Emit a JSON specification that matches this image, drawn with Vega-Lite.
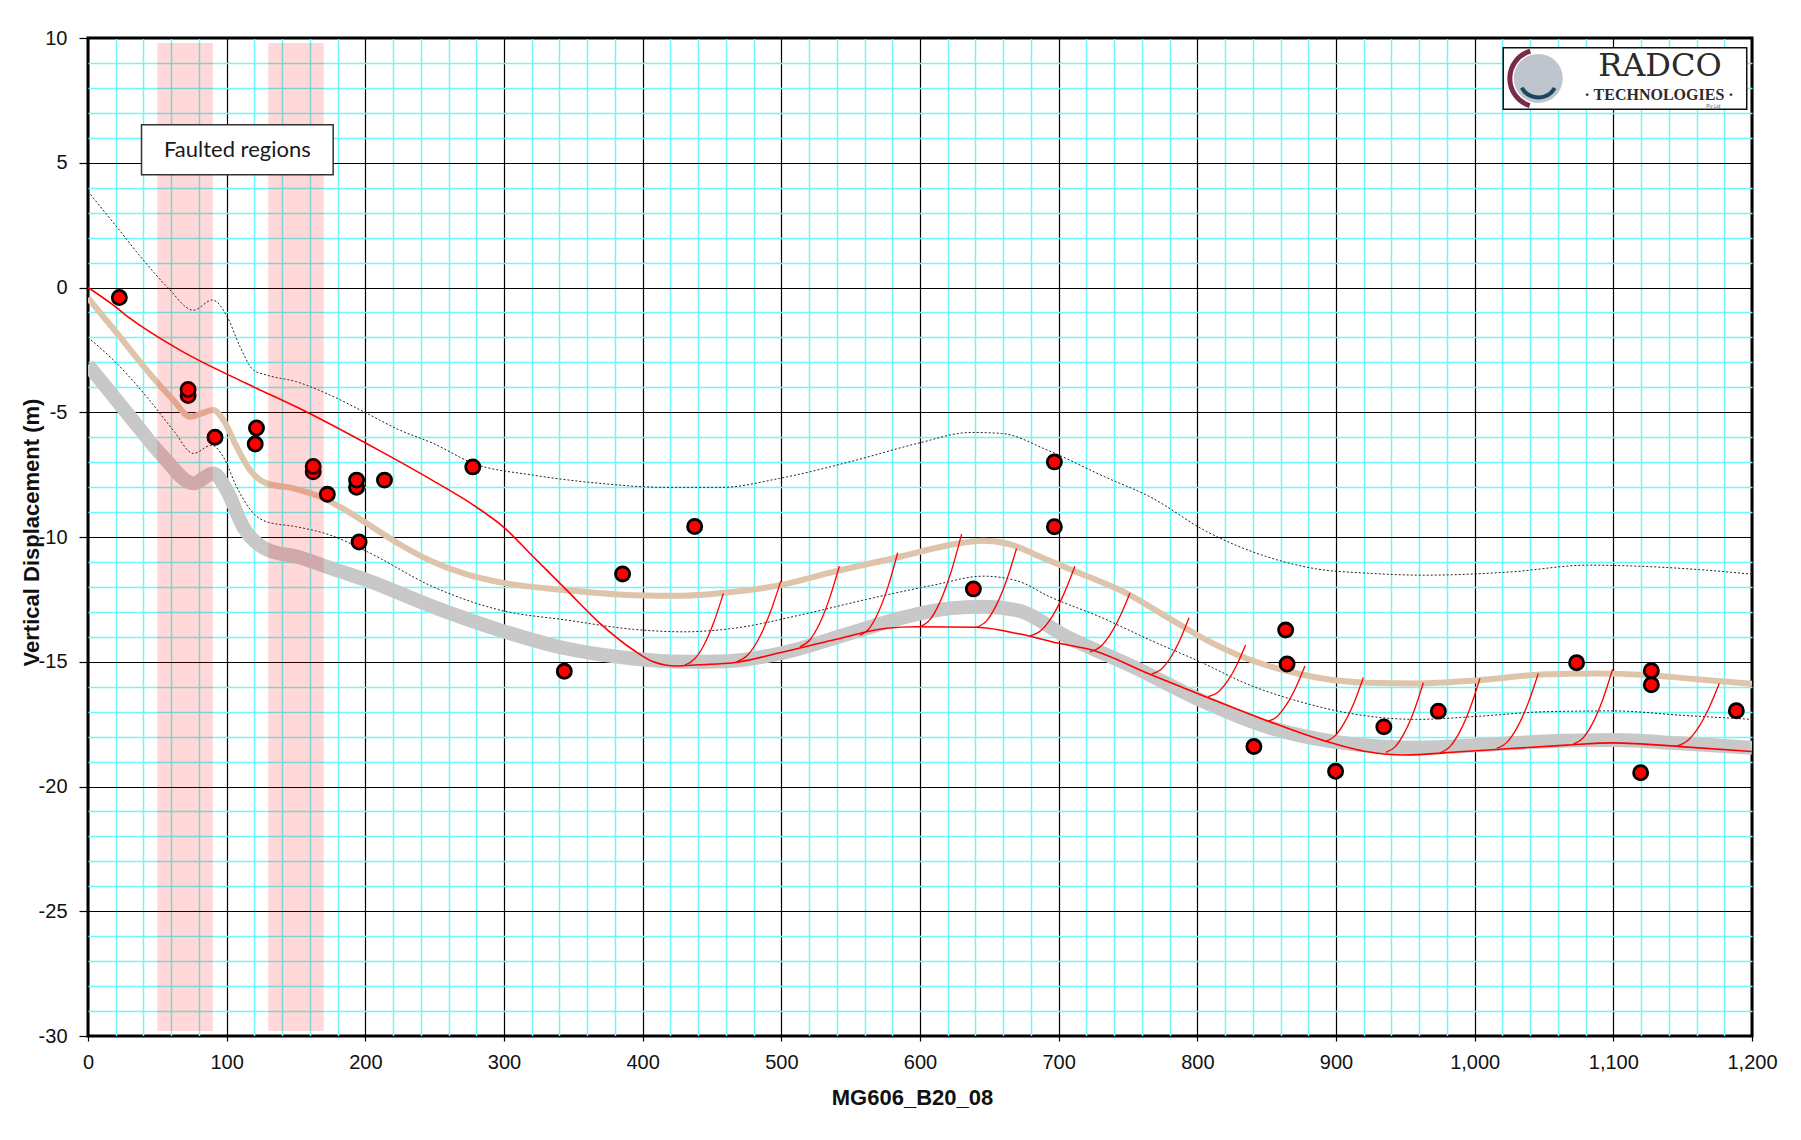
{
  "$schema": "https://vega.github.io/schema/vega-lite/v6.json",
  "width": 1664,
  "height": 998,
  "autosize": {"type": "none"},
  "padding": {"left": 88, "top": 38, "right": 49, "bottom": 104},
  "background": "#ffffff",
  "config": {"view": {"stroke": "#000000", "strokeWidth": 3}},
  "datasets": {
    "pts": [
      {"x":22.6,"y":-0.4},{"x":72.2,"y":-4.33},{"x":72.2,"y":-4.09},{"x":91.6,"y":-6.0},{"x":120.6,"y":-6.27},{"x":121.5,"y":-5.63},
      {"x":162.4,"y":-7.39},{"x":162.4,"y":-7.17},{"x":172.6,"y":-8.29},{"x":193.7,"y":-8.01},{"x":193.7,"y":-7.72},{"x":195.5,"y":-10.2},
      {"x":213.8,"y":-7.72},{"x":277.5,"y":-7.19},{"x":343.5,"y":-15.38},{"x":385.5,"y":-11.48},{"x":437.5,"y":-9.58},{"x":638.5,"y":-12.08},
      {"x":696.9,"y":-6.99},{"x":696.9,"y":-9.59},{"x":840.8,"y":-18.4},{"x":863.7,"y":-13.73},{"x":864.7,"y":-15.09},{"x":899.7,"y":-19.39},
      {"x":934.5,"y":-17.61},{"x":973.8,"y":-16.98},{"x":1073.5,"y":-15.04},{"x":1119.7,"y":-19.45},{"x":1127.4,"y":-15.92},{"x":1127.4,"y":-15.36},
      {"x":1188.7,"y":-16.96}
    ],
    "red": [
      {"x":0,"y":0},{"x":18.3,"y":-0.71},{"x":30.4,"y":-1.24},{"x":66.3,"y":-2.51},{"x":114.4,"y":-3.85},{"x":157.3,"y":-4.98},
      {"x":210.6,"y":-6.55},{"x":249,"y":-7.75},{"x":277.9,"y":-8.72},{"x":299.5,"y":-9.59},{"x":321.1,"y":-10.79},{"x":345.2,"y":-12.13},
      {"x":369.2,"y":-13.46},{"x":393.3,"y":-14.53},{"x":407.7,"y":-15.0},{"x":424.5,"y":-15.17},{"x":440,"y":-15.12},{"x":465.4,"y":-15.04},
      {"x":499,"y":-14.64},{"x":537.5,"y":-14.13},{"x":575.9,"y":-13.66},{"x":597.6,"y":-13.6},{"x":640.8,"y":-13.62},{"x":672.1,"y":-13.89},
      {"x":700.2,"y":-14.26},{"x":724,"y":-14.53},{"x":764.5,"y":-15.47},{"x":805,"y":-16.38},{"x":849.2,"y":-17.34},{"x":893.4,"y":-18.2},
      {"x":922.9,"y":-18.61},{"x":948.7,"y":-18.74},{"x":989.2,"y":-18.61},{"x":1026,"y":-18.48},{"x":1066.5,"y":-18.34},{"x":1099.7,"y":-18.25},
      {"x":1151.3,"y":-18.41},{"x":1200,"y":-18.6}
    ],
    "tan": [
      {"x":0,"y":-0.42},{"x":23.1,"y":-1.98},{"x":42.3,"y":-3.31},{"x":61.5,"y":-4.51},{"x":73.6,"y":-5.18},{"x":83.2,"y":-5.02},
      {"x":90.4,"y":-4.91},{"x":97.6,"y":-5.31},{"x":107.2,"y":-6.38},{"x":116.9,"y":-7.32},{"x":128.9,"y":-7.85},{"x":148.1,"y":-8.05},
      {"x":167.4,"y":-8.39},{"x":186.6,"y":-8.95},{"x":210.6,"y":-9.8},{"x":225,"y":-10.3},{"x":249,"y":-11.0},{"x":273.1,"y":-11.5},
      {"x":299.5,"y":-11.84},{"x":345.2,"y":-12.13},{"x":393.3,"y":-12.33},{"x":429.3,"y":-12.35},{"x":465.4,"y":-12.2},{"x":499.1,"y":-11.93},
      {"x":537.5,"y":-11.4},{"x":585.6,"y":-10.79},{"x":621.6,"y":-10.32},{"x":645.7,"y":-10.15},{"x":664,"y":-10.28},{"x":689,"y":-10.85},
      {"x":713,"y":-11.4},{"x":749,"y":-12.26},{"x":777.9,"y":-13.2},{"x":806.7,"y":-14.13},{"x":835.6,"y":-14.87},{"x":862,"y":-15.33},
      {"x":886,"y":-15.63},{"x":922.2,"y":-15.84},{"x":960,"y":-15.87},{"x":1000,"y":-15.75},{"x":1052,"y":-15.5},{"x":1088,"y":-15.47},
      {"x":1124,"y":-15.53},{"x":1160,"y":-15.7},{"x":1200,"y":-15.88}
    ],
    "grey": [
      {"x":0,"y":-3.1},{"x":30.3,"y":-5.18},{"x":54.3,"y":-6.79},{"x":75.9,"y":-7.85},{"x":90.4,"y":-7.45},{"x":100,"y":-8.12},
      {"x":112,"y":-9.6},{"x":129,"y":-10.5},{"x":152.9,"y":-10.82},{"x":175,"y":-11.25},{"x":201,"y":-11.73},{"x":249,"y":-12.8},
      {"x":297,"y":-13.73},{"x":345,"y":-14.47},{"x":393,"y":-14.87},{"x":429,"y":-15.0},{"x":460,"y":-14.98},{"x":499,"y":-14.67},
      {"x":549.5,"y":-13.86},{"x":585.6,"y":-13.26},{"x":621.6,"y":-12.86},{"x":645.7,"y":-12.8},{"x":669.7,"y":-12.93},{"x":705.8,"y":-14.0},
      {"x":753.8,"y":-15.2},{"x":801.9,"y":-16.53},{"x":850,"y":-17.6},{"x":898,"y":-18.2},{"x":931.7,"y":-18.4},{"x":960,"y":-18.45},
      {"x":1003.8,"y":-18.34},{"x":1050,"y":-18.2},{"x":1100,"y":-18.14},{"x":1148,"y":-18.27},{"x":1200,"y":-18.45}
    ],
    "upper": [
      {"x":0,"y":3.85},{"x":20.7,"y":2.43},{"x":39.9,"y":1.1},{"x":57.5,"y":0.0},{"x":76,"y":-0.91},{"x":89.8,"y":-0.5},
      {"x":100,"y":-1.13},{"x":109.7,"y":-2.38},{"x":119.3,"y":-3.31},{"x":128.9,"y":-3.51},{"x":150.5,"y":-3.78},{"x":174.5,"y":-4.31},
      {"x":199.5,"y":-5.0},{"x":225,"y":-5.72},{"x":249,"y":-6.25},{"x":277.9,"y":-7.05},{"x":321.1,"y":-7.52},{"x":369.2,"y":-7.85},
      {"x":416,"y":-8.01},{"x":457.3,"y":-8.01},{"x":498.7,"y":-7.65},{"x":553.9,"y":-6.92},{"x":598.1,"y":-6.25},{"x":636.7,"y":-5.81},
      {"x":658.8,"y":-5.85},{"x":692,"y":-6.52},{"x":733.3,"y":-7.59},{"x":765.9,"y":-8.39},{"x":806.7,"y":-9.78},{"x":849,"y":-10.77},
      {"x":886,"y":-11.28},{"x":922.9,"y":-11.45},{"x":963.4,"y":-11.53},{"x":1026,"y":-11.4},{"x":1081.3,"y":-11.13},{"x":1118.1,"y":-11.17},
      {"x":1160,"y":-11.3},{"x":1200,"y":-11.49}
    ],
    "lower": [
      {"x":0,"y":-2.0},{"x":18.3,"y":-2.91},{"x":42.3,"y":-4.38},{"x":61.5,"y":-5.72},{"x":76,"y":-6.65},{"x":89.2,"y":-6.32},
      {"x":97.6,"y":-6.79},{"x":107.2,"y":-7.99},{"x":119.3,"y":-9.05},{"x":128.9,"y":-9.39},{"x":150.5,"y":-9.59},{"x":174.5,"y":-9.92},
      {"x":200,"y":-10.55},{"x":249,"y":-12.0},{"x":297.1,"y":-12.93},{"x":345.2,"y":-13.33},{"x":393.3,"y":-13.7},{"x":429.3,"y":-13.8},
      {"x":465.4,"y":-13.66},{"x":513.4,"y":-13.13},{"x":561.5,"y":-12.5},{"x":609.6,"y":-11.93},{"x":645.7,"y":-11.57},{"x":669.7,"y":-11.75},
      {"x":693.7,"y":-12.4},{"x":729.8,"y":-13.2},{"x":765.9,"y":-14.13},{"x":801.9,"y":-15.0},{"x":838,"y":-15.94},{"x":874,"y":-16.6},
      {"x":910.1,"y":-17.07},{"x":958.2,"y":-17.31},{"x":1003.8,"y":-17.18},{"x":1052,"y":-17.0},{"x":1100,"y":-16.97},{"x":1148,"y":-17.14},
      {"x":1200,"y":-17.31}
    ],
    "fans": [
      {"f":1,"x":430.5,"y":-15.13},{"f":1,"x":437.4,"y":-14.89},{"f":1,"x":444.4,"y":-14.31},{"f":1,"x":451.3,"y":-13.42},{"f":1,"x":458.2,"y":-12.26},
      {"f":2,"x":467.8,"y":-15.0},{"f":2,"x":475.8,"y":-14.73},{"f":2,"x":483.8,"y":-14.07},{"f":2,"x":491.7,"y":-13.07},{"f":2,"x":499.7,"y":-11.76},
      {"f":3,"x":513.4,"y":-14.4},{"f":3,"x":520.5,"y":-14.13},{"f":3,"x":527.6,"y":-13.47},{"f":3,"x":534.7,"y":-12.47},{"f":3,"x":541.8,"y":-11.17},
      {"f":4,"x":556.7,"y":-13.93},{"f":4,"x":563.5,"y":-13.66},{"f":4,"x":570.3,"y":-12.98},{"f":4,"x":577.1,"y":-11.96},{"f":4,"x":583.9,"y":-10.63},
      {"f":5,"x":600,"y":-13.6},{"f":5,"x":607.5,"y":-13.29},{"f":5,"x":615,"y":-12.53},{"f":5,"x":622.5,"y":-11.38},{"f":5,"x":630,"y":-9.88},
      {"f":6,"x":640.8,"y":-13.62},{"f":6,"x":648,"y":-13.36},{"f":6,"x":655.2,"y":-12.71},{"f":6,"x":662.4,"y":-11.74},{"f":6,"x":669.6,"y":-10.46},
      {"f":7,"x":679.3,"y":-13.97},{"f":7,"x":687.4,"y":-13.74},{"f":7,"x":695.5,"y":-13.17},{"f":7,"x":703.6,"y":-12.3},{"f":7,"x":711.7,"y":-11.17},
      {"f":8,"x":722.6,"y":-14.6},{"f":8,"x":729.8,"y":-14.41},{"f":8,"x":737,"y":-13.92},{"f":8,"x":744.2,"y":-13.19},{"f":8,"x":751.4,"y":-12.24},
      {"f":9,"x":767,"y":-15.5},{"f":9,"x":773.75,"y":-15.31},{"f":9,"x":780.5,"y":-14.85},{"f":9,"x":787.25,"y":-14.15},{"f":9,"x":794,"y":-13.24},
      {"f":10,"x":807.9,"y":-16.4},{"f":10,"x":814.6,"y":-16.23},{"f":10,"x":821.35,"y":-15.81},{"f":10,"x":828.1,"y":-15.17},{"f":10,"x":834.8,"y":-14.33},
      {"f":11,"x":850,"y":-17.4},{"f":11,"x":856.9,"y":-17.22},{"f":11,"x":863.8,"y":-16.76},{"f":11,"x":870.7,"y":-16.07},{"f":11,"x":877.6,"y":-15.17},
      {"f":12,"x":892,"y":-18.2},{"f":12,"x":898.9,"y":-17.99},{"f":12,"x":905.85,"y":-17.46},{"f":12,"x":912.8,"y":-16.67},{"f":12,"x":919.7,"y":-15.63},
      {"f":13,"x":936,"y":-18.63},{"f":13,"x":942.75,"y":-18.4},{"f":13,"x":949.5,"y":-17.83},{"f":13,"x":956.25,"y":-16.97},{"f":13,"x":963,"y":-15.84},
      {"f":14,"x":975,"y":-18.65},{"f":14,"x":982.2,"y":-18.4},{"f":14,"x":989.4,"y":-17.79},{"f":14,"x":996.6,"y":-16.87},{"f":14,"x":1003.8,"y":-15.67},
      {"f":15,"x":1015.9,"y":-18.47},{"f":15,"x":1023.4,"y":-18.22},{"f":15,"x":1030.9,"y":-17.61},{"f":15,"x":1038.4,"y":-16.68},{"f":15,"x":1045.9,"y":-15.47},
      {"f":16,"x":1071.1,"y":-18.3},{"f":16,"x":1078.2,"y":-18.05},{"f":16,"x":1085.3,"y":-17.44},{"f":16,"x":1092.4,"y":-16.51},{"f":16,"x":1099.5,"y":-15.3},
      {"f":17,"x":1145.7,"y":-18.38},{"f":17,"x":1153.4,"y":-18.17},{"f":17,"x":1161.05,"y":-17.66},{"f":17,"x":1168.7,"y":-16.88},{"f":17,"x":1176.4,"y":-15.87}
    ],
    "bands": [
      {"x":50,"x2":90,"y":-29.8,"y2":9.8},
      {"x":130,"x2":170,"y":-29.8,"y2":9.8}
    ],
    "labelbox": [{"x":38.6,"x2":176.8,"y":6.52,"y2":4.52,"cx":107.7,"cy":5.52,"t":"Faulted regions"}],
    "logobox": [{"x":1020.6,"x2":1196.2,"y":9.61,"y2":7.14}],
    "logocircle": [{"x":1045.9,"y":8.38}],
    "logotext": [
      {"x":1133.6,"y":8.46,"t":"RADCO","k":"a"},
      {"x":1133,"y":7.5,"t":"· TECHNOLOGIES ·","k":"b"},
      {"x":1172,"y":7.19,"t":"Pty Ltd","k":"c"}
    ]
  },
  "resolve": {"axis": {"x": "independent", "y": "independent"}},
  "layer": [
    {
      "data": {"name": "grey"},
      "mark": {"type": "line", "color": "#c8c8c8", "strokeWidth": 14, "interpolate": "monotone", "clip": true, "strokeCap": "butt"},
      "encoding": {
        "x": {"field": "x", "type": "quantitative", "scale": {"domain": [0, 1200], "nice": false, "zero": false},
          "axis": {"orient": "top", "values": [20,40,60,80,120,140,160,180,220,240,260,280,320,340,360,380,420,440,460,480,520,540,560,580,620,640,660,680,720,740,760,780,820,840,860,880,920,940,960,980,1020,1040,1060,1080,1120,1140,1160,1180],
            "grid": true, "gridColor": "#6ff6f6", "gridWidth": 1.5, "gridOpacity": 1, "labels": false, "ticks": false, "domain": false, "title": null}},
        "y": {"field": "y", "type": "quantitative", "scale": {"domain": [-30, 10], "nice": false, "zero": false},
          "axis": {"orient": "right", "values": [-29,-28,-27,-26,-24,-23,-22,-21,-19,-18,-17,-16,-14,-13,-12,-11,-9,-8,-7,-6,-4,-3,-2,-1,1,2,3,4,6,7,8,9],
            "grid": true, "gridColor": "#6ff6f6", "gridWidth": 1.5, "gridOpacity": 1, "labels": false, "ticks": false, "domain": false, "title": null}}
      }
    },
    {
      "data": {"name": "tan"},
      "mark": {"type": "line", "color": "#dec4ab", "strokeWidth": 6, "interpolate": "monotone", "clip": true},
      "encoding": {
        "x": {"field": "x", "type": "quantitative", "scale": {"domain": [0, 1200], "nice": false, "zero": false},
          "axis": {"orient": "bottom", "values": [0,100,200,300,400,500,600,700,800,900,1000,1100,1200], "format": ",d",
            "grid": true, "gridColor": "#000000", "gridWidth": 1.2, "gridOpacity": 1, "domain": false,
            "ticks": true, "tickSize": 5, "tickColor": "#000000", "tickWidth": 1.2,
            "labelFont": "Liberation Sans", "labelFontSize": 20, "labelColor": "#111111", "labelPadding": 11, "labelFlush": false, "labelOverlap": false,
            "title": "MG606_B20_08", "titleFont": "Liberation Sans", "titleFontSize": 22, "titleFontWeight": "bold", "titleColor": "#111111",
            "titleX": 824, "titleY": 68, "titleAlign": "center", "titleBaseline": "alphabetic"}},
        "y": {"field": "y", "type": "quantitative", "scale": {"domain": [-30, 10], "nice": false, "zero": false},
          "axis": {"orient": "left", "values": [-30,-25,-20,-15,-10,-5,0,5,10], "labelExpr": "'' + datum.value",
            "grid": true, "gridColor": "#000000", "gridWidth": 1.2, "gridOpacity": 1, "domain": false,
            "ticks": true, "tickSize": 9, "tickColor": "#000000", "tickWidth": 1.2,
            "labelFont": "Liberation Sans", "labelFontSize": 20, "labelColor": "#111111", "labelPadding": 12, "labelFlush": false, "labelOverlap": false,
            "title": "Vertical Displacement (m)", "titleFont": "Liberation Sans", "titleFontSize": 22, "titleFontWeight": "bold", "titleColor": "#111111",
            "titleX": -57, "titleY": 494, "titleAngle": 270, "titleAlign": "center", "titleBaseline": "middle"}}
      }
    },
    {
      "data": {"name": "upper"},
      "mark": {"type": "line", "color": "#222222", "strokeWidth": 1, "strokeDash": [2, 2], "interpolate": "monotone", "clip": true},
      "encoding": {
        "x": {"field": "x", "type": "quantitative", "axis": null},
        "y": {"field": "y", "type": "quantitative", "axis": null}
      }
    },
    {
      "data": {"name": "lower"},
      "mark": {"type": "line", "color": "#222222", "strokeWidth": 1, "strokeDash": [2, 2], "interpolate": "monotone", "clip": true},
      "encoding": {
        "x": {"field": "x", "type": "quantitative", "axis": null},
        "y": {"field": "y", "type": "quantitative", "axis": null}
      }
    },
    {
      "data": {"name": "red"},
      "mark": {"type": "line", "color": "#ff0000", "strokeWidth": 1.6, "interpolate": "monotone", "clip": true},
      "encoding": {
        "x": {"field": "x", "type": "quantitative", "axis": null},
        "y": {"field": "y", "type": "quantitative", "axis": null}
      }
    },
    {
      "data": {"name": "fans"},
      "mark": {"type": "line", "color": "#ff0000", "strokeWidth": 1.3, "interpolate": "monotone", "clip": true},
      "encoding": {
        "x": {"field": "x", "type": "quantitative", "axis": null},
        "y": {"field": "y", "type": "quantitative", "axis": null},
        "detail": {"field": "f", "type": "nominal"}
      }
    },
    {
      "data": {"name": "pts"},
      "mark": {"type": "point", "shape": "circle", "filled": true, "fill": "#ff0000", "stroke": "#000000", "strokeWidth": 2.8, "size": 200, "opacity": 1},
      "encoding": {
        "x": {"field": "x", "type": "quantitative", "axis": null},
        "y": {"field": "y", "type": "quantitative", "axis": null}
      }
    },
    {
      "data": {"name": "bands"},
      "mark": {"type": "rect", "color": "#ff0000", "opacity": 0.15},
      "encoding": {
        "x": {"field": "x", "type": "quantitative", "axis": null},
        "x2": {"field": "x2"},
        "y": {"field": "y", "type": "quantitative", "axis": null},
        "y2": {"field": "y2"}
      }
    },
    {
      "data": {"name": "labelbox"},
      "mark": {"type": "rect", "fill": "#ffffff", "stroke": "#333333", "strokeWidth": 1.5},
      "encoding": {
        "x": {"field": "x", "type": "quantitative", "axis": null},
        "x2": {"field": "x2"},
        "y": {"field": "y", "type": "quantitative", "axis": null},
        "y2": {"field": "y2"}
      }
    },
    {
      "data": {"name": "labelbox"},
      "mark": {"type": "text", "font": "Lato", "fontSize": 22, "color": "#1a1a1a", "align": "center", "baseline": "middle"},
      "encoding": {
        "x": {"field": "cx", "type": "quantitative", "axis": null},
        "y": {"field": "cy", "type": "quantitative", "axis": null},
        "text": {"field": "t"}
      }
    },
    {
      "data": {"name": "logobox"},
      "mark": {"type": "rect", "fill": "#ffffff", "stroke": "#111111", "strokeWidth": 1.5},
      "encoding": {
        "x": {"field": "x", "type": "quantitative", "axis": null},
        "x2": {"field": "x2"},
        "y": {"field": "y", "type": "quantitative", "axis": null},
        "y2": {"field": "y2"}
      }
    },
    {
      "data": {"name": "logocircle"},
      "mark": {"type": "point", "shape": "circle", "filled": true, "color": "#bfc5cc", "size": 2400, "opacity": 1},
      "encoding": {
        "x": {"field": "x", "type": "quantitative", "axis": null},
        "y": {"field": "y", "type": "quantitative", "axis": null}
      }
    },
    {
      "data": {"name": "logocircle"},
      "mark": {"type": "arc", "theta": 3.45, "theta2": 6.0, "radius": 31, "radius2": 26, "color": "#7a2b48"},
      "encoding": {
        "x": {"field": "x", "type": "quantitative", "axis": null},
        "y": {"field": "y", "type": "quantitative", "axis": null}
      }
    },
    {
      "data": {"name": "logocircle"},
      "mark": {"type": "arc", "theta": 2.1, "theta2": 4.2, "radius": 21, "radius2": 17, "color": "#1f4563"},
      "encoding": {
        "x": {"field": "x", "type": "quantitative", "axis": null},
        "y": {"field": "y", "type": "quantitative", "axis": null}
      }
    },
    {
      "data": {"name": "logotext"},
      "transform": [{"filter": "datum.k == 'a'"}],
      "mark": {"type": "text", "font": "DejaVu Serif", "fontSize": 32, "color": "#2b2b2b", "align": "center", "baseline": "alphabetic"},
      "encoding": {
        "x": {"field": "x", "type": "quantitative", "axis": null},
        "y": {"field": "y", "type": "quantitative", "axis": null},
        "text": {"field": "t"}
      }
    },
    {
      "data": {"name": "logotext"},
      "transform": [{"filter": "datum.k == 'b'"}],
      "mark": {"type": "text", "font": "Liberation Serif", "fontSize": 16, "fontWeight": "bold", "color": "#2b2b2b", "align": "center", "baseline": "alphabetic"},
      "encoding": {
        "x": {"field": "x", "type": "quantitative", "axis": null},
        "y": {"field": "y", "type": "quantitative", "axis": null},
        "text": {"field": "t"}
      }
    },
    {
      "data": {"name": "logotext"},
      "transform": [{"filter": "datum.k == 'c'"}],
      "mark": {"type": "text", "font": "Liberation Sans", "fontSize": 4.5, "color": "#555555", "align": "center", "baseline": "alphabetic"},
      "encoding": {
        "x": {"field": "x", "type": "quantitative", "axis": null},
        "y": {"field": "y", "type": "quantitative", "axis": null},
        "text": {"field": "t"}
      }
    }
  ]
}
